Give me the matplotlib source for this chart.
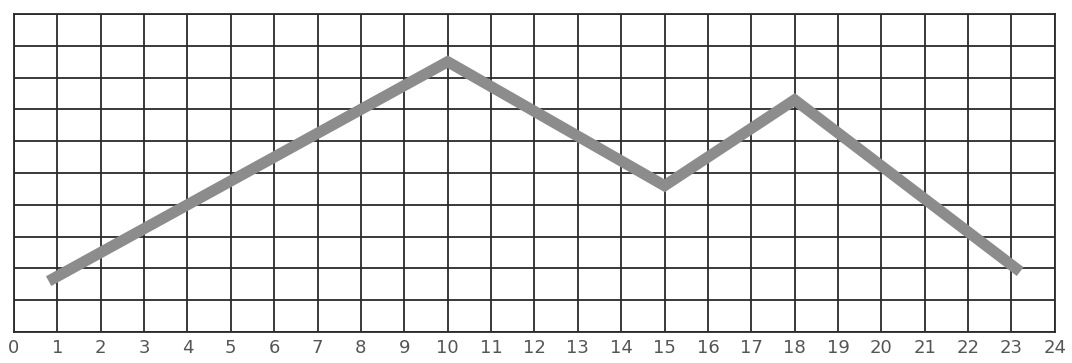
import numpy as np
import matplotlib.pyplot as plt

# line points
hours = [0.8, 10, 15, 18, 23.2]
values = [1.6, 8.5, 4.6, 7.3, 1.9]

x_ticks = list(range(0, 25))
y_ticks = list(range(0, 11))

fig = plt.figure(figsize=(10.72, 3.63), dpi=100)
ax = fig.add_axes([0.013, 0.0854, 0.971, 0.876])

ax.plot(hours, values, color='#8c8c8c', linewidth=8, solid_joinstyle='miter',
        solid_capstyle='butt', zorder=3)

ax.set_xlim(0, 24)
ax.set_ylim(0, 10)
ax.set_xticks(x_ticks)
ax.set_xticklabels([str(t) for t in x_ticks], fontsize=13, color='#555555')
ax.set_yticks(y_ticks)
ax.set_yticklabels([])
ax.tick_params(length=0, pad=5)
ax.grid(True, color='#2a2a2a', linewidth=1.3)
ax.set_axisbelow(True)
for s in ax.spines.values():
    s.set_color('#2a2a2a')
    s.set_linewidth(1.3)

fig.savefig('out.png', dpi=100)
